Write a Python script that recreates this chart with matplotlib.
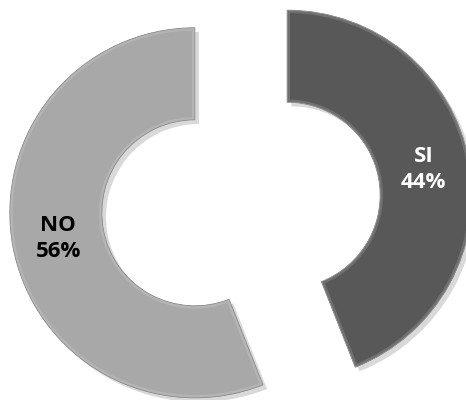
import numpy as np
import matplotlib
matplotlib.use("Agg")
import matplotlib.pyplot as plt
import matplotlib.patheffects as pe
from matplotlib.patches import Wedge

# respuestas
labels = ["SI", "NO"]
values = [44, 56]
colors = ["#585858", "#a8a8a8"]
text_colors = ["white", "black"]

fig = plt.figure(figsize=(4.66, 4.0), dpi=100)
ax = fig.add_axes([0, 0, 1, 1])

R = 185
W = 92
# explode va en unidades de datos (pixeles aqui)
wedges, _ = ax.pie(values, colors=colors, startangle=90, counterclock=False,
                   center=(241, 196), radius=R, explode=[47, 47],
                   wedgeprops=dict(width=W, edgecolor="#808080", linewidth=0.6))

for w in wedges:
    w.set_path_effects([pe.SimplePatchShadow(offset=(3, -3), shadow_rgbFace="black", alpha=0.15),
                        pe.Normal()])
    # borde biselado: trazo claro recortado por la propia cuña
    rim = Wedge(w.center, R, w.theta1, w.theta2, width=W, facecolor="none",
                edgecolor="white", linewidth=4, alpha=0.15)
    ax.add_patch(rim)
    rim.set_clip_path(w)

# etiquetas en el centro del anillo
for w, lab, v, tc in zip(wedges, labels, values, text_colors):
    th = np.deg2rad((w.theta1 + w.theta2) / 2)
    rm = R - W / 2
    x = w.center[0] + rm * np.cos(th)
    y = w.center[1] + rm * np.sin(th)
    ax.text(x, y, f"{lab}\n{v}%", ha="center", va="center", color=tc,
            fontsize=16, fontweight="bold", family="Open Sans", linespacing=1.3)

ax.set_xlim(0, 466)
ax.set_ylim(0, 400)
ax.set_aspect("equal")
ax.axis("off")

fig.savefig("out.png", dpi=100, facecolor="white")
